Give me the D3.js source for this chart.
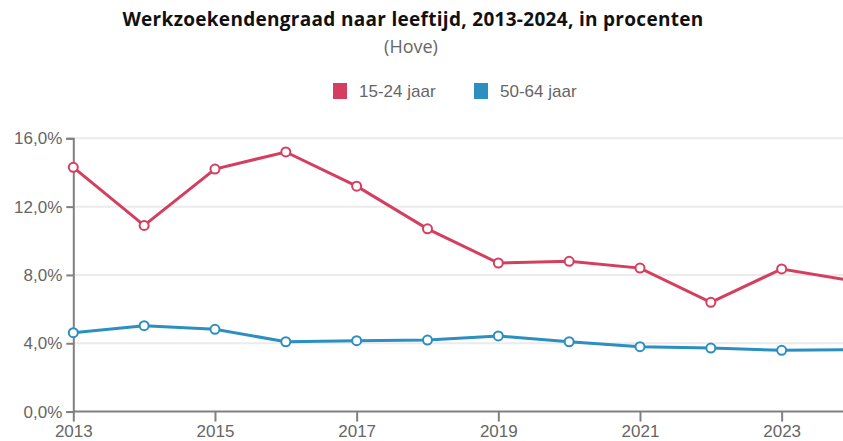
<!DOCTYPE html>
<html>
  <head>
    <meta charset="utf-8">
    <style>
        body { margin: 0; background: #fff; }
        svg { display: block; }
    </style>
    <script src="https://d3js.org/d3.v7.min.js"></script>
  </head>
  <body>
    <svg></svg>
    <script>
    // data
    var years = [2013, 2014, 2015, 2016, 2017, 2018, 2019, 2020, 2021, 2022, 2023, 2024];
    var jong = [14.3, 10.9, 14.2, 15.2, 13.2, 10.7, 8.7, 8.8, 8.4, 6.4, 8.35, 7.65];
    var oud = [4.62, 5.03, 4.82, 4.09, 4.15, 4.19, 4.43, 4.09, 3.8, 3.72, 3.59, 3.63];
    var seriesNames = ["15-24 jaar", "50-64 jaar"];
    var seriesColors = ["#d43f5f", "#2b8fbf"];
    var yTicks = [0, 4, 8, 12, 16];
    var xTicks = [2013, 2015, 2017, 2019, 2021, 2023];

    var width = 843, height = 441;
    var svg = d3.select("svg")
        .attr("width", width)
        .attr("height", height);

    var x = d3.scaleLinear()
        .domain([2013, 2024])
        .range([73.3, 852.5]);

    var y = d3.scaleLinear()
        .domain([0, 16])
        .range([411.6, 138.3]);

    // title
    svg.append("text")
        .attr("x", 413)
        .attr("y", 26)
        .attr("text-anchor", "middle")
        .attr("font-family", "Open Sans")
        .attr("font-weight", "bold")
        .attr("font-size", "19px")
        .attr("letter-spacing", "0.3px")
        .attr("fill", "#111")
        .text("Werkzoekendengraad naar leeftijd, 2013-2024, in procenten");

    svg.append("text")
        .attr("x", 411)
        .attr("y", 53)
        .attr("text-anchor", "middle")
        .attr("font-family", "Open Sans")
        .attr("font-size", "18px")
        .attr("fill", "#666")
        .text("(Hove)");

    // legend
    var legendX = [333, 474];
    var legend = svg.append("g").attr("class", "legend");
    seriesNames.forEach(function(name, i) {
        legend.append("rect")
            .attr("x", legendX[i])
            .attr("y", 83)
            .attr("width", 14)
            .attr("height", 16)
            .attr("fill", seriesColors[i]);
        legend.append("text")
            .attr("x", legendX[i] + 26)
            .attr("y", 97)
            .attr("font-family", "Liberation Sans")
            .attr("font-size", "17px")
            .attr("fill", "#666")
            .text(name);
    });

    // gridlines
    svg.append("g")
        .selectAll("line")
        .data(yTicks.slice(1))
        .enter().append("line")
        .attr("x1", x(2013))
        .attr("x2", width)
        .attr("y1", function(d) { return y(d); })
        .attr("y2", function(d) { return y(d); })
        .attr("stroke", "#ebebeb")
        .attr("stroke-width", 2);

    // y axis
    var yAxis = svg.append("g")
        .attr("transform", "translate(" + x(2013) + ",0)")
        .call(d3.axisLeft(y)
            .tickValues(yTicks)
            .tickSize(7)
            .tickPadding(4)
            .tickFormat(function(d) { return d3.format(".1f")(d).replace(".", ",") + "%"; }));

    // x axis
    var xAxis = svg.append("g")
        .attr("transform", "translate(0," + y(0) + ")")
        .call(d3.axisBottom(x)
            .tickValues(xTicks)
            .tickSize(10)
            .tickPadding(3)
            .tickFormat(d3.format("d")));

    [xAxis, yAxis].forEach(function(ax) {
        ax.select(".domain").attr("stroke", "#808080").attr("stroke-width", 2);
        ax.selectAll(".tick line").attr("stroke", "#808080").attr("stroke-width", 2);
        ax.selectAll(".tick text")
            .attr("fill", "#666")
            .attr("font-family", "Liberation Sans")
            .attr("font-size", "17px");
    });
    xAxis.select(".domain").attr("d", "M" + x(2013) + ",0H" + width);

    // lines
    var line = d3.line()
        .x(function(d, i) { return x(years[i]); })
        .y(function(d) { return y(d); });

    [jong, oud].forEach(function(values, s) {
        var g = svg.append("g");
        g.append("path")
            .datum(values)
            .attr("fill", "none")
            .attr("stroke", seriesColors[s])
            .attr("stroke-width", 3)
            .attr("d", line);
        g.selectAll("circle")
            .data(values)
            .enter().append("circle")
            .attr("cx", function(d, i) { return x(years[i]); })
            .attr("cy", function(d) { return y(d); })
            .attr("r", 4.5)
            .attr("fill", "#fff")
            .attr("stroke", seriesColors[s])
            .attr("stroke-width", 2);
    });
    </script>
  </body>
</html>
